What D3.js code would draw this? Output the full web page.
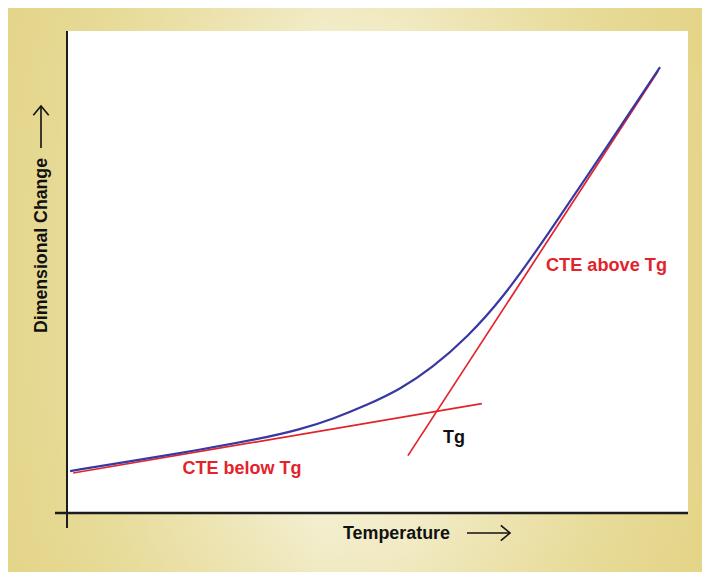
<!DOCTYPE html>
<html><head><meta charset="utf-8">
<script src="https://cdn.jsdelivr.net/npm/d3@7"></script>
<style>html,body{margin:0;padding:0;background:#fff}svg{display:block}</style>
</head><body>
<script>
// Data (arbitrary units: temperature 0-100, dimensional change 0-100)
const curveTemp   = [0.5, 10.1, 20.9, 31.1, 37.5, 42.8, 48.3, 53.6, 58.9, 64.4, 70.2, 77.3, 87.1, 95.5];
const curveChange = [8.7, 10.7, 13.0, 15.4, 17.3, 19.5, 22.4, 25.6, 30.2, 36.4, 44.6, 57.5, 76.3, 92.5];
const belowTemp   = [1.0, 66.8];
const belowChange = [8.3, 22.7];
const aboveTemp   = [54.9, 95.2];
const aboveChange = [11.9, 91.7];
const labels = ["CTE below Tg", "CTE above Tg", "Tg"];
const xTitle = "Temperature";
const yTitle = "Dimensional Change";

const W = 702, H = 572;
const plot = {left: 67, right: 688, top: 31, bottom: 513};
const svg = d3.select("body").append("svg").attr("width", W).attr("height", H);
const defs = svg.append("defs");
const g1 = defs.append("linearGradient").attr("id", "bg").attr("x1", "0").attr("x2", "1").attr("y1", "0").attr("y2", "0");
g1.append("stop").attr("offset", "0%").attr("stop-color", "#e4d68c");
g1.append("stop").attr("offset", "45%").attr("stop-color", "#f3eece");
g1.append("stop").attr("offset", "58%").attr("stop-color", "#f2ecc8");
g1.append("stop").attr("offset", "100%").attr("stop-color", "#e4d589");
const g2 = defs.append("radialGradient").attr("id", "bg2").attr("cx", "0.5").attr("cy", "0.5").attr("r", "0.7");
g2.append("stop").attr("offset", "60%").attr("stop-color", "#e6d88f").attr("stop-opacity", 0);
g2.append("stop").attr("offset", "100%").attr("stop-color", "#e3d486").attr("stop-opacity", 0.6);

svg.append("rect").attr("x", 8).attr("y", 8).attr("width", W - 8).attr("height", H - 8).attr("fill", "url(#bg)");
svg.append("rect").attr("x", 8).attr("y", 8).attr("width", W - 8).attr("height", H - 8).attr("fill", "url(#bg2)");
svg.append("rect").attr("x", plot.left).attr("y", plot.top).attr("width", plot.right - plot.left).attr("height", plot.bottom - plot.top).attr("fill", "#fff");

const x = d3.scaleLinear().domain([0, 100]).range([plot.left, plot.right]);
const y = d3.scaleLinear().domain([0, 100]).range([plot.bottom, plot.top]);

const line = d3.line().x(d => x(d[0])).y(d => y(d[1]));

// red tangent lines
svg.append("path").datum(d3.zip(belowTemp, belowChange)).attr("d", line)
  .attr("fill", "none").attr("stroke", "#e3232b").attr("stroke-width", 1.7);
svg.append("path").datum(d3.zip(aboveTemp, aboveChange)).attr("d", line)
  .attr("fill", "none").attr("stroke", "#e3232b").attr("stroke-width", 1.7);
// blue curve
svg.append("path").datum(d3.zip(curveTemp, curveChange)).attr("d", line.curve(d3.curveBasis))
  .attr("fill", "none").attr("stroke", "#3838a2").attr("stroke-width", 2.2);

// axes
const axisColor = "#1c1c1c";
svg.append("line").attr("x1", x(0)).attr("x2", x(0)).attr("y1", y(100)).attr("y2", y(0) + 15)
  .attr("stroke", axisColor).attr("stroke-width", 2);
svg.append("line").attr("x1", x(0) - 12).attr("x2", x(100)).attr("y1", y(0)).attr("y2", y(0))
  .attr("stroke", axisColor).attr("stroke-width", 2.4);

const font = "'Liberation Sans', Arial, sans-serif";
// annotations
svg.append("text").attr("x", 242).attr("y", 474).attr("text-anchor", "middle")
  .attr("font-family", font).attr("font-weight", "bold").attr("font-size", 18).attr("fill", "#e3232b")
  .attr("textLength", 119).attr("lengthAdjust", "spacingAndGlyphs").text(labels[0]);
svg.append("text").attr("x", 546).attr("y", 271)
  .attr("font-family", font).attr("font-weight", "bold").attr("font-size", 18).attr("fill", "#e3232b")
  .attr("textLength", 121).attr("lengthAdjust", "spacingAndGlyphs").text(labels[1]);
svg.append("text").attr("x", 443).attr("y", 443)
  .attr("font-family", font).attr("font-weight", "bold").attr("font-size", 18).attr("fill", "#111")
  .text(labels[2]);

// axis titles
svg.append("text").attr("x", 343).attr("y", 539)
  .attr("font-family", font).attr("font-weight", "bold").attr("font-size", 18).attr("fill", "#111")
  .attr("textLength", 107).attr("lengthAdjust", "spacingAndGlyphs").text(xTitle);
const arrow = (x1, y1, x2, y2) => {
  const g = svg.append("g").attr("stroke", "#111").attr("stroke-width", 1.6).attr("fill", "none");
  g.append("line").attr("x1", x1).attr("y1", y1).attr("x2", x2).attr("y2", y2);
  const ang = Math.atan2(y2 - y1, x2 - x1), L = 12, a = 0.7;
  g.append("path").attr("d", `M${x2 - L * Math.cos(ang - a)},${y2 - L * Math.sin(ang - a)} L${x2},${y2} L${x2 - L * Math.cos(ang + a)},${y2 - L * Math.sin(ang + a)}`);
};
arrow(467, 533, 510, 533);
svg.append("text").attr("transform", "translate(47,333) rotate(-90)")
  .attr("font-family", font).attr("font-weight", "bold").attr("font-size", 18).attr("fill", "#111")
  .attr("textLength", 175).attr("lengthAdjust", "spacingAndGlyphs").text(yTitle);
arrow(41, 148, 41, 106);
</script>
</body></html>
